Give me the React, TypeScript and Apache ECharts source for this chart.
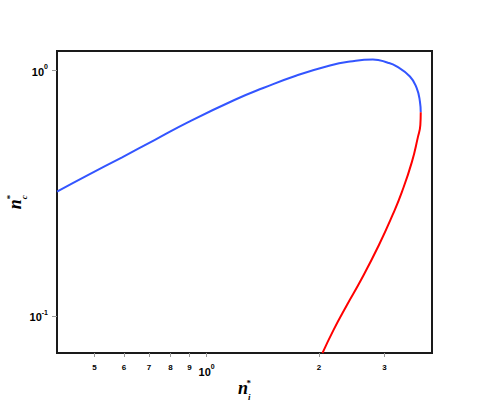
import React, { useEffect, useRef } from "react";
import * as echarts from "echarts";

// Blue branch (n_i*, n_c*)
const niBlue = [0.397, 0.4817, 0.5917, 0.7268, 0.8927, 1.191, 1.418, 1.743, 2.141, 2.423, 2.791, 3.062, 3.231, 3.508, 3.656, 3.731, 3.75];
const ncBlue = [0.3208, 0.3753, 0.4415, 0.5214, 0.6158, 0.7594, 0.8477, 0.9541, 1.048, 1.087, 1.108, 1.075, 1.038, 0.945, 0.848, 0.747, 0.675];
// Red branch
const niRed = [3.75, 3.741, 3.681, 3.551, 3.339, 3.152, 2.897, 2.593, 2.378, 2.188, 2.044];
const ncRed = [0.675, 0.6, 0.531, 0.424, 0.32, 0.2576, 0.1943, 0.1398, 0.1106, 0.0874, 0.0704];

const xTickValues = [0.5, 0.6, 0.7, 0.8, 0.9, 1, 2, 3];
const yTickValues = [0.1, 1];
const xRange = [0.397, 4.02];
const yRange = [0.0705, 1.2];

const lg = (v: number) => Math.log10(v);

export default function App() {
  const ref = useRef<HTMLDivElement>(null);
  useEffect(() => {
    if (!ref.current) return;
    const chart = echarts.init(ref.current, null, { renderer: "svg" });
    const blue = niBlue.map((x, i) => [lg(x), lg(ncBlue[i])]);
    const red = niRed.map((x, i) => [lg(x), lg(ncRed[i])]);
    const xFmt = (v: number) => {
      if (Math.abs(v) < 1e-6) return "{a|10}{b|0}";
      const n = Math.pow(10, v);
      return "{s|" + (n < 1 ? Math.round(n * 10) : Math.round(n)) + "}";
    };
    const yFmt = (v: number) => "{a|10}{b|" + Math.round(v) + "}";
    const font = "Liberation Sans, Arial, sans-serif";
    const serif = "Liberation Serif, Times New Roman, serif";
    const nameRich = {
      n: { fontSize: 18, fontWeight: "bold", fontStyle: "italic", fontFamily: serif, color: "#000", lineHeight: 20 },
      i: { fontSize: 9, fontWeight: "bold", fontStyle: "italic", fontFamily: serif, color: "#000", verticalAlign: "bottom", lineHeight: 20, padding: [0, 0, -3, 0] },
      st: { fontSize: 9, fontWeight: "bold", fontFamily: serif, color: "#000", verticalAlign: "top", lineHeight: 20, padding: [0, 0, 0, -4] },
    };
    const labelRich = {
      s: { fontSize: 8, fontWeight: "bold", fontFamily: font, color: "#000" },
      a: { fontSize: 11, fontWeight: "bold", fontFamily: font, color: "#000", lineHeight: 14, verticalAlign: "bottom" },
      b: { fontSize: 7, fontWeight: "bold", fontFamily: font, color: "#000", lineHeight: 14, verticalAlign: "top" },
    };
    chart.setOption({
      animation: false,
      backgroundColor: "#fff",
      grid: {
        left: 57,
        right: 59,
        top: 51,
        bottom: 51,
        containLabel: false,
        outerBoundsMode: "none",
        show: true,
        borderColor: "#1a1a1a",
        borderWidth: 2,
        backgroundColor: "transparent",
      },
      xAxis: {
        type: "value",
        min: lg(xRange[0]),
        max: lg(xRange[1]),
        axisLine: { show: false, onZero: false },
        splitLine: { show: false },
        axisTick: {
          customValues: xTickValues.map(lg),
          length: 4,
          lineStyle: { color: "#999", width: 1 },
        },
        axisLabel: {
          customValues: xTickValues.map(lg),
          margin: 10,
          formatter: xFmt,
          rich: labelRich,
        },
        name: "{n|n}{i|i}{st|*}",
        nameLocation: "middle",
        nameGap: 25,
        nameMoveOverlap: false,
        nameTextStyle: { rich: nameRich },
      },
      yAxis: {
        type: "value",
        min: lg(yRange[0]),
        max: lg(yRange[1]),
        axisLine: { show: false, onZero: false },
        splitLine: { show: false },
        axisTick: {
          customValues: yTickValues.map(lg),
          length: 5,
          lineStyle: { color: "#999", width: 1 },
        },
        axisLabel: {
          customValues: yTickValues.map(lg),
          margin: 9,
          formatter: yFmt,
          rich: labelRich,
        },
        name: "{n|n}{i|c}{st|*}",
        nameLocation: "middle",
        nameGap: 32,
        nameMoveOverlap: false,
        nameTextStyle: { rich: nameRich },
      },
      series: [
        {
          type: "line",
          data: blue,
          smooth: 0.5,
          showSymbol: false,
          lineStyle: { color: "#3355ff", width: 2 },
        },
        {
          type: "line",
          data: red,
          smooth: 0.5,
          showSymbol: false,
          lineStyle: { color: "#ff0000", width: 2 },
        },
      ],
    });
    return () => chart.dispose();
  }, []);
  return (
    <div
      ref={ref}
      style={{ position: "absolute", left: 0, top: 0, width: 491, height: 404 }}
    />
  );
}
